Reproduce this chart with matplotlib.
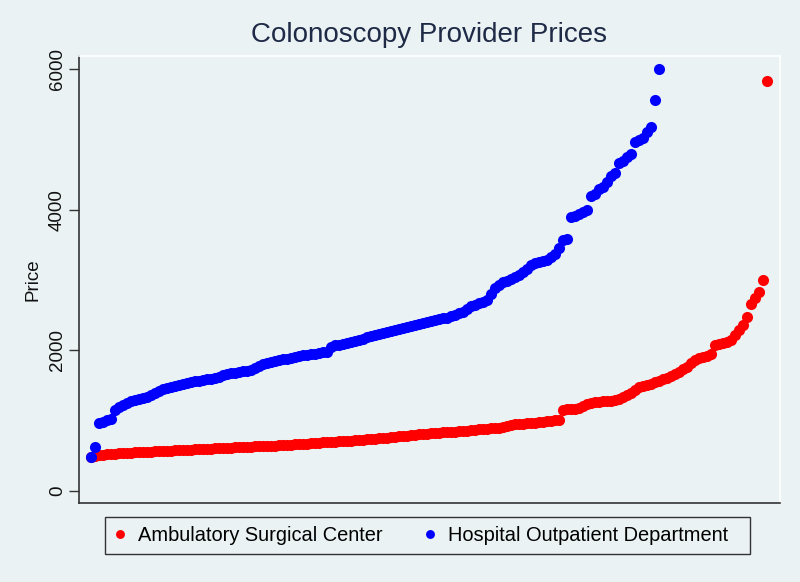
import matplotlib
matplotlib.use("Agg")
import matplotlib.pyplot as plt
from matplotlib.patches import Rectangle

# sorted prices for each provider type
asc_prices = [
    480, 498, 507, 514, 520, 525, 530, 534, 538, 541,
    544, 546, 549, 551, 554, 557, 559, 562, 564, 567,
    570, 573, 576, 578, 581, 584, 587, 590, 593, 596,
    599, 602, 605, 608, 611, 614, 617, 620, 622, 625,
    627, 630, 633, 635, 638, 641, 643, 646, 649, 652,
    656, 660, 664, 667, 671, 675, 679, 683, 687, 690,
    694, 698, 702, 706, 710, 714, 718, 722, 726, 730,
    735, 740, 744, 749, 755, 761, 767, 773, 779, 785,
    790, 796, 801, 806, 811, 817, 821, 825, 829, 833,
    837, 841, 845, 849, 855, 860, 866, 872, 877, 883,
    888, 893, 900, 912, 924, 936, 944, 951, 956, 961,
    966, 971, 976, 981, 989, 997, 1004, 1010, 1153, 1158,
    1164, 1170, 1184, 1209, 1234, 1255, 1260, 1266, 1271, 1277,
    1282, 1287, 1304, 1333, 1361, 1398, 1434, 1471, 1492, 1509,
    1525, 1542, 1562, 1586, 1610, 1634, 1663, 1697, 1730, 1764,
    1815, 1866, 1896, 1905, 1913, 1950, 2073, 2086, 2098, 2111,
    2140, 2221, 2294, 2357, 2475, 2657, 2744, 2826, 2997, 5832,
]

hopd_prices = [
    480, 626, 967, 985, 1002, 1020, 1150, 1190, 1219, 1247,
    1276, 1297, 1311, 1325, 1338, 1367, 1396, 1425, 1446, 1466,
    1483, 1497, 1511, 1525, 1539, 1552, 1560, 1569, 1578, 1586,
    1595, 1607, 1624, 1641, 1658, 1672, 1682, 1691, 1701, 1710,
    1724, 1750, 1776, 1802, 1815, 1829, 1842, 1856, 1869, 1882,
    1896, 1909, 1919, 1926, 1933, 1940, 1949, 1958, 1968, 1977,
    2044, 2069, 2080, 2092, 2103, 2114, 2129, 2148, 2167, 2186,
    2204, 2218, 2233, 2248, 2262, 2276, 2290, 2305, 2319, 2333,
    2347, 2361, 2376, 2390, 2404, 2416, 2429, 2441, 2454, 2466,
    2486, 2506, 2526, 2546, 2587, 2623, 2645, 2667, 2690, 2712,
    2807, 2879, 2926, 2973, 2992, 3011, 3040, 3078, 3116, 3163,
    3210, 3241, 3255, 3268, 3282, 3329, 3376, 3455, 3566, 3590,
    3900, 3918, 3945, 3970, 3993, 4190, 4230, 4290, 4329, 4400,
    4480, 4530, 4666, 4700, 4751, 4790, 4964, 5000, 5025, 5100,
    5178, 5560, 6008,
]

labels = ["Ambulatory Surgical Center", "Hospital Outpatient Department"]
y_ticks = [0, 2000, 4000, 6000]

bg = "#eaf2f3"
plt.rcParams["font.family"] = ["Liberation Sans", "DejaVu Sans"]

fig = plt.figure(figsize=(8, 5.82), dpi=100, facecolor=bg)
ax = fig.add_axes([0.09875, 0.1357, 0.87625, 0.7681], facecolor=bg)

# rank within each group on the x axis
asc_rank = list(range(1, len(asc_prices) + 1))
hopd_rank = list(range(1, len(hopd_prices) + 1))

ax.plot(asc_rank, asc_prices, "o", color="#ff0000", markersize=8,
        markeredgewidth=0, label=labels[0])
ax.plot(hopd_rank, hopd_prices, "o", color="#0000ff", markersize=8,
        markeredgewidth=0, label=labels[1])

ax.set_xlim(-2, 173.25)
ax.set_ylim(-175, 6189)
ax.set_xticks([])
ax.set_yticks(y_ticks)
ax.set_yticklabels([str(t) for t in y_ticks], rotation=90, va="center")
ax.tick_params(axis="y", length=7, width=1, pad=2.5, labelsize=13.5,
               color="#333333", labelcolor="#111111")

for side in ["left", "bottom"]:
    ax.spines[side].set_color("#333333")
    ax.spines[side].set_linewidth(1.2)
for side in ["top", "right"]:
    ax.spines[side].set_color("white")
    ax.spines[side].set_linewidth(1.2)

ax.set_ylabel("Price", fontsize=13.5, labelpad=5, color="#111111")
fig.suptitle("Colonoscopy Provider Prices", fontsize=20, color="#1e2a46",
             x=0.536, y=1 - 35 / 582, va="center")

# legend box drawn separately so it can be wider on the right like Stata
fig.patches.append(Rectangle((105 / 800, 1 - 554 / 582), 645 / 800, 37 / 582,
                             transform=fig.transFigure, facecolor=bg,
                             edgecolor="#333333", linewidth=1.0, zorder=0))
leg = fig.legend(loc="center left", bbox_to_anchor=(114 / 800, 1 - 535.5 / 582),
                 ncol=2, fontsize=14.4, frameon=False,
                 markerscale=0.8, handlelength=0.6, handletextpad=0.6,
                 columnspacing=2.05, borderpad=0.0, borderaxespad=0.0)

fig.savefig("out.png", dpi=100, facecolor=bg)
